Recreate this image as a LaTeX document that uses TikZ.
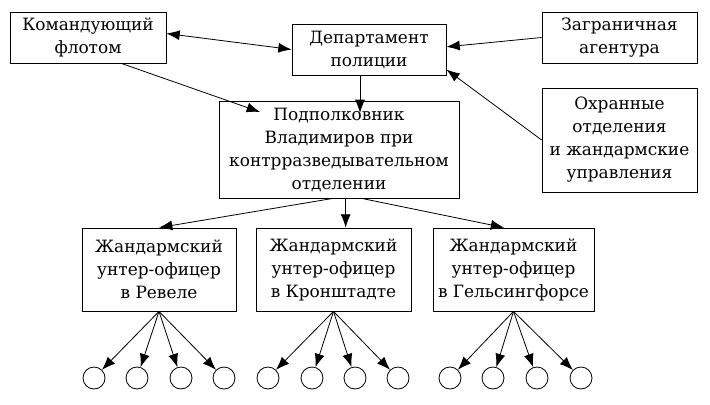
\documentclass[tikz,border=0pt]{standalone}
\usepackage{fontspec}
\setmainfont{DejaVu Serif}
\usetikzlibrary{arrows.meta}

\begin{document}
\begin{tikzpicture}[x=0.75pt, y=-0.75pt, line width=0.6pt,
		box/.style={draw, align=center, inner sep=2pt, font=\fontsize{12.7}{17.25}\selectfont},
		leaf/.style={draw, circle, minimum size=16.5pt, inner sep=0pt},
		>={Latex[length=10pt,width=7.5pt]}]
		\useasboundingbox (0,0) rectangle (710,404);

		% Top row
		\node[box, minimum width=117pt, minimum height=38.25pt] (fleet) at (88,37.5) {Командующий\\флотом};
		\node[box, minimum width=115.5pt, minimum height=38.25pt] (dept) at (369,49.5) {Департамент\\полиции};
		\node[box, minimum width=116.25pt, minimum height=38.25pt] (abroad) at (619.5,37.5) {Заграничная\\агентура};
		\node[box, minimum width=116.25pt, minimum height=78pt] (okhr) at (619.5,140) {Охранные\\отделения\\и жандармские\\управления};

		% Middle
		\node[box, minimum width=180pt, minimum height=72.75pt] (podp) at (339,149.5) {Подполковник\\Владимиров при\\контрразведывательном\\отделении};

		% Gendarmes
		\node[box, minimum width=115.5pt, minimum height=62.25pt] (revel) at (159,269.5) {Жандармский\\унтер-офицер\\в Ревеле};
		\node[box, minimum width=116.25pt, minimum height=62.25pt] (kron) at (333.5,269.5) {Жандармский\\унтер-офицер\\в Кронштадте};
		\node[box, minimum width=120.75pt, minimum height=62.25pt] (gels) at (513.5,269.5) {Жандармский\\унтер-офицер\\в Гельсингфорсе};

		% Agents
		\node[leaf] (r1) at (94,378) {};
		\node[leaf] (r2) at (137,378) {};
		\node[leaf] (r3) at (181,378) {};
		\node[leaf] (r4) at (224,378) {};
		\node[leaf] (k1) at (268,378) {};
		\node[leaf] (k2) at (312,378) {};
		\node[leaf] (k3) at (355,378) {};
		\node[leaf] (k4) at (398,378) {};
		\node[leaf] (g1) at (450,378) {};
		\node[leaf] (g2) at (493,378) {};
		\node[leaf] (g3) at (537,378) {};
		\node[leaf] (g4) at (581,378) {};

		% Free ends inside the box
		\coordinate (podpin) at (260,112);
		\coordinate (deptin) at (360,113);

		% Connecting lines
		\draw[<->] ([yshift=3pt]fleet.east) -- (dept.west);
		\draw[->] ([xshift=25pt]fleet.south) -- (podpin);
		\draw[->] (abroad.west) -- ([yshift=2pt]dept.east);
		\draw[->] (okhr.west) -- ([yshift=-15pt]dept.east);
		\draw[->] (dept.south -| deptin) -- (deptin);

		\draw[->] ([xshift=-4.5pt]podp.south) -- (revel.north);
		\draw[->] ([xshift=5pt]podp.south) -- ([xshift=5pt]podp.south |- kron.north);
		\draw[->] ([xshift=17pt]podp.south) -- ([xshift=-7pt]gels.north);

		\draw[->] (revel.south) -- (r1);
		\draw[->] (revel.south) -- (r2);
		\draw[->] (revel.south) -- (r3);
		\draw[->] (revel.south) -- (r4);
		\draw[->] (kron.south) -- (k1);
		\draw[->] (kron.south) -- (k2);
		\draw[->] (kron.south) -- (k3);
		\draw[->] (kron.south) -- (k4);
		\draw[->] (gels.south) -- (g1);
		\draw[->] (gels.south) -- (g2);
		\draw[->] (gels.south) -- (g3);
		\draw[->] (gels.south) -- (g4);
	\end{tikzpicture}
\end{document}
